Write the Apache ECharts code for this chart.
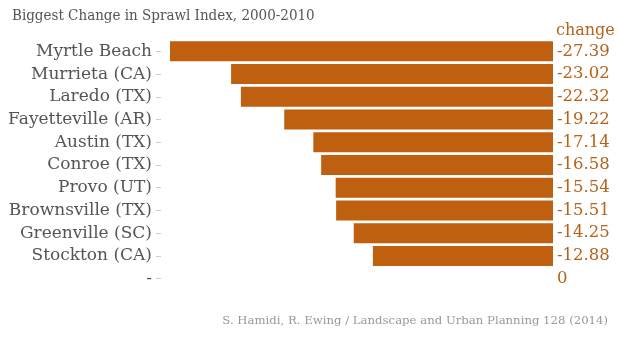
<!DOCTYPE html>
<html><head><meta charset="utf-8">
<script src="https://cdn.jsdelivr.net/npm/echarts@6/dist/echarts.min.js"></script>
<style>html,body{margin:0;padding:0;background:#fff}#c{width:620px;height:340px}</style>
</head><body><div id="c"></div>
<script>
var categories = ['Myrtle Beach','Murrieta (CA)','Laredo (TX)','Fayetteville (AR)','Austin (TX)','Conroe (TX)','Provo (UT)','Brownsville (TX)','Greenville (SC)','Stockton (CA)','-'];
var changeValues = [-27.39,-23.02,-22.32,-19.22,-17.14,-16.58,-15.54,-15.51,-14.25,-12.88,0];
var valueLabels = ['-27.39','-23.02','-22.32','-19.22','-17.14','-16.58','-15.54','-15.51','-14.25','-12.88','0'];
var titleText = 'Biggest Change in Sprawl Index, 2000-2010';
var sourceText = 'S. Hamidi, R. Ewing / Landscape and Urban Planning 128 (2014)';

var FONT = 'DejaVu Serif';
var FONTC = 'DejaVu Serif Condensed';
var chart = echarts.init(document.getElementById('c'));
chart.setOption({
  animation: false,
  backgroundColor: '#fff',
  title: [
    {text: titleText, left: 12, top: 9, padding: 0, textStyle: {fontFamily: FONTC + ', ' + FONT, fontWeight: 'normal', fontSize: 15, color: '#555'}},
    {text: sourceText, right: 12, top: 315, padding: 0, textStyle: {fontFamily: FONT, fontWeight: 'normal', fontSize: 11.7, color: '#999'}}
  ],
  grid: {left: 170, right: 67, top: 40, height: 250, containLabel: false, outerBoundsMode: 'none'},
  xAxis: {type: 'value', min: -27.39, max: 0, show: false},
  yAxis: [
    {type: 'category', data: categories, inverse: true, position: 'left', offset: 9,
     axisLine: {show: false, onZero: false}, axisTick: {show: true, alignWithLabel: true, length: 5, lineStyle: {color: '#ccc'}},
     axisLabel: {fontFamily: FONT, fontSize: 17, color: '#555', margin: 9}},
    {type: 'category', data: valueLabels, inverse: true, position: 'right',
     name: 'change', nameLocation: 'start', nameGap: 1,
     nameTextStyle: {fontFamily: FONT, fontSize: 16, color: '#b5621b', align: 'left', padding: [0,0,0,3]},
     axisLine: {show: false, onZero: false}, axisTick: {show: false},
     axisLabel: {fontFamily: FONT, fontSize: 16.5, color: '#b5621b', margin: 4}}
  ],
  series: [{
    type: 'bar', data: changeValues, yAxisIndex: 0, barCategoryGap: '12%',
    itemStyle: {color: '#bf5f10'}, silent: true
  }]
});
</script></body></html>
